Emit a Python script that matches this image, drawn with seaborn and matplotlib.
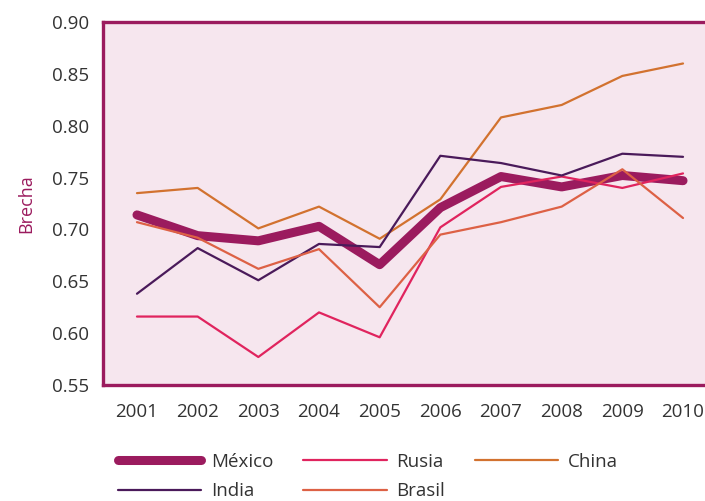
import matplotlib
matplotlib.use('Agg')
import matplotlib.pyplot as plt
import seaborn as sns
import pandas as pd

# --- datos ---
years = [2001, 2002, 2003, 2004, 2005, 2006, 2007, 2008, 2009, 2010]
mexico = [0.714, 0.694, 0.689, 0.703, 0.666, 0.721, 0.751, 0.741, 0.752, 0.747]
rusia = [0.616, 0.616, 0.577, 0.620, 0.596, 0.702, 0.741, 0.751, 0.740, 0.754]
china = [0.735, 0.740, 0.701, 0.722, 0.691, 0.729, 0.808, 0.820, 0.848, 0.860]
india = [0.638, 0.682, 0.651, 0.686, 0.683, 0.771, 0.764, 0.752, 0.773, 0.770]
brasil = [0.707, 0.692, 0.662, 0.681, 0.625, 0.695, 0.707, 0.722, 0.758, 0.711]

series = {'México': mexico, 'Rusia': rusia, 'China': china, 'India': india, 'Brasil': brasil}
colors = {'México': '#9B1B5E', 'Rusia': '#E0245E', 'China': '#D2722F',
          'India': '#4A1A5A', 'Brasil': '#DD6145'}
widths = {'México': 6.5, 'Rusia': 1.6, 'China': 1.6, 'India': 1.6, 'Brasil': 1.6}

sns.set_style('white')
plt.rcParams['font.family'] = ['Open Sans', 'DejaVu Sans']

fig = plt.figure(figsize=(7.05, 5.01), dpi=100)
ax = fig.add_axes([103 / 705, 1 - 385 / 501, 614 / 705, 363 / 501])
ax.set_facecolor('#F6E6EE')

handles = {}
for name, vals in series.items():
    df = pd.DataFrame({'year': years, 'valor': vals})
    sns.lineplot(data=df, x='year', y='valor', ax=ax, color=colors[name],
                 linewidth=widths[name], solid_capstyle='round', label=name, legend=False)
    handles[name] = ax.lines[-1]

ax.set_xlim(2000.44, 2010.56)
ax.set_ylim(0.55, 0.90)
ax.set_xticks(years)
ax.set_yticks([0.55, 0.60, 0.65, 0.70, 0.75, 0.80, 0.85, 0.90])
ax.set_yticklabels([f'{v:.2f}' for v in ax.get_yticks()])
ax.tick_params(axis='both', length=0, labelsize=13.5, labelcolor='#333333')
ax.tick_params(axis='y', pad=10)
ax.tick_params(axis='x', pad=13)
ax.set_xlabel('')
ax.set_ylabel('Brecha', color='#9B1B5E', fontsize=13, labelpad=12)
for s in ax.spines.values():
    s.set_color('#9B1B5E')
    s.set_linewidth(2.4)

# orden por columnas para que queden México, Rusia, China arriba
order = ['México', 'India', 'Rusia', 'Brasil', 'China']
fig.legend([handles[n] for n in order], order, loc='upper left',
           bbox_to_anchor=(118 / 705, 1 - 453 / 501), ncol=3, frameon=False,
           fontsize=13.5, handlelength=4.45, handletextpad=0.5, columnspacing=1.6,
           labelspacing=0.6, borderpad=0, borderaxespad=0, labelcolor='#333333')

fig.savefig('out.png', dpi=100)
